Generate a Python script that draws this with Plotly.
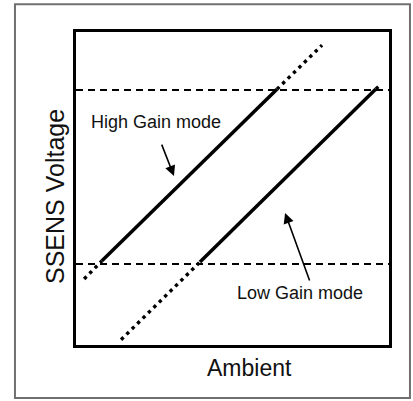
import plotly.graph_objects as go

# ---- data (values in axis units, axes run 0..10) ----
thresholds = [2.59, 8.15]          # lower / upper SSENS voltage limits
threshold_x = [0, 10]

high_dot_lo_x = [0.26, 0.83]
high_dot_lo_y = [2.11, 2.69]
high_solid_x = [0.83, 6.42]
high_solid_y = [2.69, 8.17]
high_dot_hi_x = [6.42, 7.86]
high_dot_hi_y = [8.17, 9.58]

low_dot_lo_x = [1.44, 3.96]
low_dot_lo_y = [0.17, 2.65]
low_solid_x = [3.96, 9.58]
low_solid_y = [2.65, 8.18]
low_dot_hi_x = [9.58, 9.74]
low_dot_hi_y = [8.18, 8.33]

labels = ["High Gain mode", "Low Gain mode"]
label_x = [2.56, 7.16]
label_y = [7.12, 1.66]
arrow_tip_x = [3.13, 6.68]
arrow_tip_y = [5.40, 4.22]
arrow_tail_x = [2.72, 7.48]
arrow_tail_y = [6.45, 2.01]

x_title = "Ambient"
y_title = "SSENS Voltage"

FONT = "Liberation Sans, Arial, sans-serif"
DOT = "3.4px,4.2px"

fig = go.Figure()

for t in thresholds:
    fig.add_trace(go.Scatter(x=threshold_x, y=[t, t], mode="lines",
                             line=dict(color="black", width=2, dash="7px,5px"),
                             hoverinfo="skip"))

segments = [
    (high_dot_lo_x, high_dot_lo_y, DOT),
    (high_solid_x, high_solid_y, "solid"),
    (high_dot_hi_x, high_dot_hi_y, DOT),
    (low_dot_lo_x, low_dot_lo_y, DOT),
    (low_solid_x, low_solid_y, "solid"),
    (low_dot_hi_x, low_dot_hi_y, DOT),
]
for sx, sy, d in segments:
    fig.add_trace(go.Scatter(x=sx, y=sy, mode="lines",
                             line=dict(color="black", width=3.5 if d == "solid" else 3.4, dash=d),
                             hoverinfo="skip"))

annotations = []
for i in range(2):
    annotations.append(dict(x=label_x[i], y=label_y[i], xref="x", yref="y",
                            text=labels[i], showarrow=False,
                            font=dict(family=FONT, size=18, color="#111111"),
                            xanchor="center", yanchor="middle"))
    annotations.append(dict(x=arrow_tip_x[i], y=arrow_tip_y[i], xref="x", yref="y",
                            ax=arrow_tail_x[i], ay=arrow_tail_y[i], axref="x", ayref="y",
                            text="", showarrow=True, arrowhead=2, arrowsize=1.3,
                            arrowwidth=1.6, arrowcolor="black", standoff=0, startstandoff=0))

annotations.append(dict(x=0.553, y=-0.073, xref="paper", yref="paper",
                        text=x_title, showarrow=False,
                        font=dict(family=FONT, size=23, color="#111111"),
                        xanchor="center", yanchor="middle"))
annotations.append(dict(x=-0.067, y=0.473, xref="paper", yref="paper",
                        text=y_title, showarrow=False, textangle=-90,
                        font=dict(family=FONT, size=25, color="#111111"),
                        xanchor="center", yanchor="middle"))

axis_common = dict(range=[0, 10], showgrid=False, zeroline=False, showticklabels=False,
                   ticks="", showline=True, mirror=True, linecolor="black", linewidth=2.5,
                   fixedrange=True)

fig.update_layout(
    width=413, height=401,
    margin=dict(l=76, r=24, t=32, b=56),
    paper_bgcolor="white", plot_bgcolor="white",
    showlegend=False,
    xaxis=axis_common, yaxis=axis_common,
    annotations=annotations,
    shapes=[dict(type="rect", xref="paper", yref="paper",
                 x0=-0.195, x1=1.067, y0=-0.169, y1=1.089,
                 line=dict(color="#707070", width=2), fillcolor="rgba(0,0,0,0)",
                 layer="below")],
)

fig.write_html("out.html", config={"displayModeBar": False},
               post_script="document.body.style.margin='0px';"
                           "document.documentElement.style.overflow='hidden';")
